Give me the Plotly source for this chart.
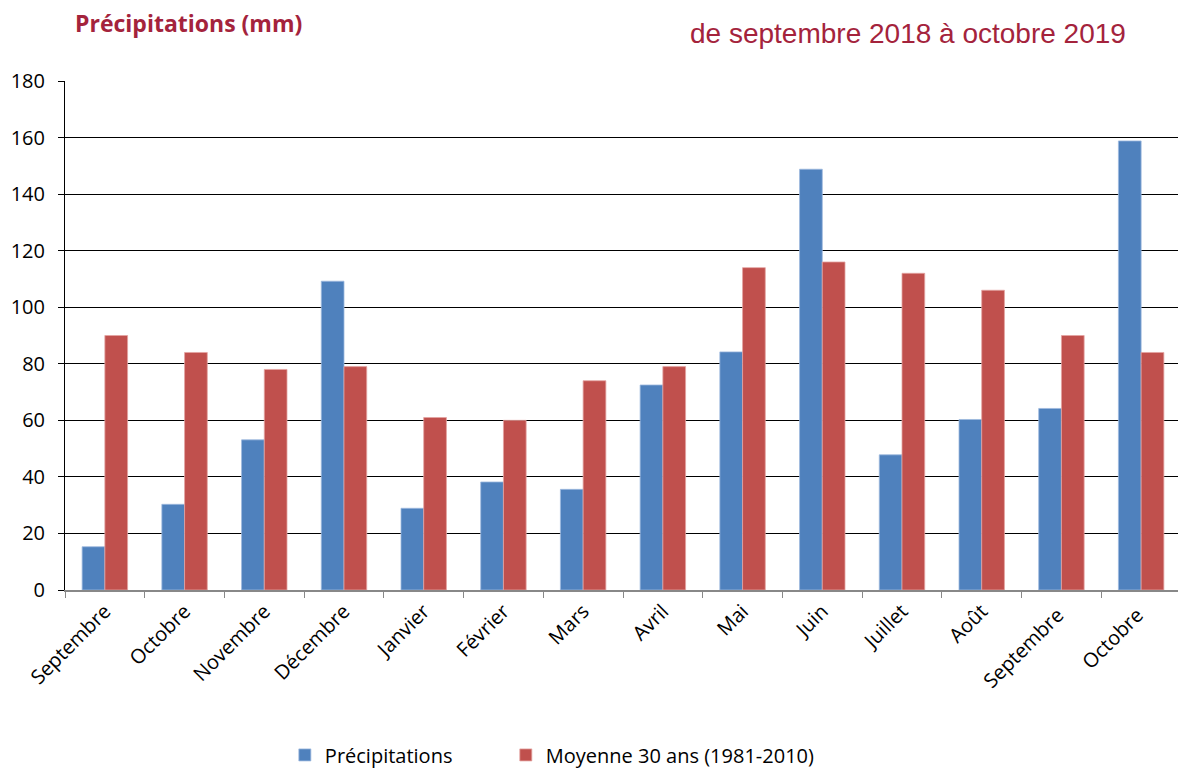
import plotly.graph_objects as go

months = ["Septembre", "Octobre", "Novembre", "Décembre", "Janvier", "Février", "Mars",
          "Avril", "Mai", "Juin", "Juillet", "Août", "Septembre ", "Octobre "]
precipitations = [15.3, 30.3, 53.1, 109.2, 28.9, 38.2, 35.6, 72.5, 84.2, 148.8, 47.8, 60.3, 64.2, 158.8]
moyenne_30ans = [90, 84, 78, 79, 61, 60, 74, 79, 114, 116, 112, 106, 90, 84]
y_ticks = [0, 20, 40, 60, 80, 100, 120, 140, 160, 180]

BLUE = "#4F81BD"
RED = "#C0504D"
TITLE_COLOR = "#A4233C"
FONT = "Open Sans, Lato, sans-serif"

fig = go.Figure()
fig.add_trace(go.Bar(x=months, y=precipitations, name="Précipitations", legend="legend",
                     marker=dict(color=BLUE, line=dict(color="#9DB9DE", width=0.8))))
fig.add_trace(go.Bar(x=months, y=moyenne_30ans, name="Moyenne 30 ans (1981-2010)", legend="legend2",
                     marker=dict(color=RED, line=dict(color="#E3A3A1", width=0.8))))

legend_common = dict(orientation="h", yanchor="middle", y=-0.324, xanchor="left",
                     font=dict(family=FONT, size=20, color="black"), itemwidth=30,
                     bgcolor="rgba(0,0,0,0)")

fig.update_layout(
    width=1178, height=761,
    margin=dict(l=57, r=5, t=73, b=179, autoexpand=False),
    paper_bgcolor="white", plot_bgcolor="white",
    barmode="group", bargap=0.43, bargroupgap=0,
    font=dict(family=FONT, size=19, color="black"),
    showlegend=True,
    legend=dict(x=0.197, **legend_common),
    legend2=dict(x=0.395, **legend_common),
    annotations=[
        dict(text="<b>Précipitations (mm)</b>", xref="paper", yref="paper",
             x=0.007, y=1.113, xanchor="left", yanchor="middle", showarrow=False,
             font=dict(family=FONT, size=23, color=TITLE_COLOR)),
        dict(text="de septembre 2018 à octobre 2019", xref="paper", yref="paper",
             x=0.9525, y=1.094, xanchor="right", yanchor="middle", showarrow=False,
             font=dict(family="Liberation Sans, Arial, sans-serif", size=28, color=TITLE_COLOR)),
    ],
)

fig.update_xaxes(
    tickangle=-45, tickson="boundaries", ticks="outside", ticklen=6, tickcolor="#888888",
    showline=True, linecolor="#888888", linewidth=1.5, showgrid=False, automargin=False,
    tickfont=dict(family=FONT, size=20, color="black"),
)
fig.update_yaxes(
    range=[0, 180], tickvals=y_ticks, ticks="outside", ticklen=6, tickcolor="black",
    showline=True, linecolor="black", linewidth=1, showgrid=True, gridcolor="black",
    gridwidth=1, zeroline=False, automargin=False, ticklabelstandoff=9,
    tickfont=dict(family=FONT, size=20, color="black"),
)

fig.write_html("out.html")
